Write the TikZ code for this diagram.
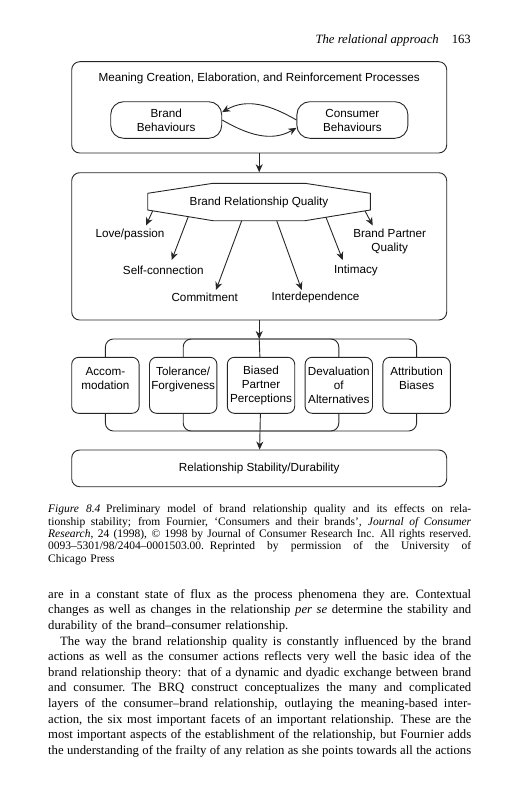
\documentclass[tikz,border=0pt]{standalone}
\usepackage{fontspec}
\setmainfont{Liberation Serif}
\newfontfamily\diagfont{Liberation Sans}
\usepackage{tikz}
\usetikzlibrary{positioning,arrows.meta}
\setlength{\parindent}{0pt}
\newcommand\jline[2][423pt]{\leavevmode\hbox to #1{\spaceskip=0.25em plus 1em minus 0.08em\relax #2}}

\begin{document}
\begin{tikzpicture}
        [
            x=1pt, y=-1pt,
            frame/.style={rectangle, draw=black!85, line width=0.9pt, rounded corners=8pt, minimum width=375pt},
            behaviour/.style={rectangle, draw=black!85, line width=0.9pt, rounded corners=13pt, minimum width=111pt, minimum height=36.6pt, align=center, font=\diagfont\fontsize{11.7}{14}\selectfont},
            facet/.style={rectangle, draw=black!85, line width=0.9pt, rounded corners=7pt, minimum width=67.4pt, minimum height=56pt, text width=66pt, inner sep=0pt, align=center, font=\diagfont\fontsize{11.7}{13.8}\selectfont},
            lbl/.style={inner sep=0pt, align=center, font=\diagfont\fontsize{11.7}{14.3}\selectfont},
            arr/.style={draw=black!85, line width=0.9pt, -{Stealth[length=8pt, width=7pt, inset=2.5pt]}},
            bracket/.style={draw=black!85, line width=0.9pt, rounded corners=8pt},
            prose/.style={inner sep=0pt, anchor=north west, text width=423pt, align=left},
        ]
        \useasboundingbox (0,0) rectangle (517,800);

        %Header
        \node[anchor=base east, inner sep=0pt, font=\fontsize{12.7}{15.6}\selectfont] (runhead) at (471,44) {\textit{The relational approach}\hspace{13pt}163};

        %Nodes
        \node[frame, minimum height=91.3pt]     (meaning)                           at (259.2,107.35) {};
        \node[lbl]                              (process)                           at (259.2,78)     {Meaning Creation, Elaboration, and Reinforcement Processes};
        \node[behaviour]                        (brand)                             at (166.2,120)    {Brand\\Behaviours};
        \node[behaviour]                        (consumer)  [right=74.3pt of brand]                   {Consumer\\Behaviours};

        \node[frame, minimum height=147.3pt]    (brqbox)                            at (259.2,246.35) {};
        \node[lbl]                              (brq)                               at (259,202)      {Brand Relationship Quality};
        \draw[draw=black!85, line width=0.9pt] (213,183.3) -- (305,183.3) -- (370.3,193.3) -- (370.3,210) -- (305,220.7) -- (213,220.7) -- (147.7,210) -- (147.7,193.3) -- cycle;

        \node[lbl]                              (love)                              at (130,234)      {Love/passion};
        \node[lbl]                              (selfconn)                          at (163.3,270.7)  {Self-connection};
        \node[lbl]                              (commit)                            at (204.7,297.3)  {Commitment};
        \node[lbl]                              (interdep)                          at (315.5,297.3)  {Interdependence};
        \node[lbl]                              (intimacy)                          at (356,270.7)    {Intimacy};
        \node[lbl]                              (partner)                           at (389.7,241.2)  {Brand Partner\\Quality};

        \node[facet]                            (accom)                             at (105.4,385.3)  {Accom-\\modation\\~};
        \node[facet]                            (toler)     [right=9.5pt of accom]                    {Tolerance/\\Forgiveness\\~};
        \node[facet]                            (biased)    [right=9.5pt of toler]                    {Biased\\Partner\\Perceptions};
        \node[facet]                            (deval)     [right=9.5pt of biased]                   {Devaluation\\of\\Alternatives};
        \node[facet]                            (attrib)    [right=9.5pt of deval]                    {Attribution\\Biases\\~};

        \node[frame, minimum height=36.7pt, font=\diagfont\fontsize{11.7}{14}\selectfont] (stability) at (259.2,468.35) {Relationship Stability/Durability};

        %Lines
        \draw[arr] (meaning) -- (brqbox);
        \draw[arr] (consumer.west) to[out=150, in=30] (brand.8);
        \draw[arr] (brand.east) to[out=-30, in=-150] (consumer.188);

        \coordinate (q1) at (152.7,210.8);  \coordinate (t1) at (146,225.5);
        \coordinate (q2) at (188.3,216.6);  \coordinate (t2) at (171.7,260);
        \coordinate (q3) at (241.7,220.7);  \coordinate (t3) at (216,290);
        \coordinate (q4) at (276.7,220.7);  \coordinate (t4) at (301.7,290);
        \coordinate (q5) at (326,217.3);    \coordinate (t5) at (342.7,260);
        \coordinate (q6) at (365,210.9);    \coordinate (t6) at (372.7,225.5);
        \foreach \i in {1,...,6}
            \draw[arr] (q\i) -- (t\i);

        \coordinate (join) at (259.2,339);
        \coordinate (split) at (259.2,431);
        \draw[arr] (brqbox) -- (join);
        \draw[bracket] (join) -- (biased);
        \draw[bracket] (accom.north) |- (join) -| (attrib.north);
        \draw[bracket] (toler.north) |- (join) -| (deval.north);
        \draw[bracket] (accom.south) |- (split) -| (attrib.south);
        \draw[bracket] (toler.south) |- (split) -| (deval.south);
        \draw[arr] (biased) -- (stability);

        %Caption
        \node[prose, font=\fontsize{11.5}{12.4}\selectfont] (caption) at (48,503.8) {\strut\jline{\textit{Figure 8.4}\enspace Preliminary model of brand relationship quality and its effects on rela-}\\
            \jline{tionship stability; from Fournier, ‘Consumers and their brands’, \textit{Journal of Consumer}}\\
            \jline{\textit{Research}, 24 (1998), © 1998 by Journal of Consumer Research Inc. All rights reserved.}\\
            \jline{0093–5301/98/2404–0001503.00. Reprinted by permission of the University of}\\
            Chicago Press};

        %Text
        \node[prose, font=\fontsize{12.7}{15.6}\selectfont] (body) at (48,587.1) {\strut\jline{are in a constant state of flux as the process phenomena they are. Contextual}\\
            \jline{changes as well as changes in the relationship \textit{per se} determine the stability and}\\
            durability of the brand–consumer relationship.\\
            \hspace*{12pt}\jline[411pt]{The way the brand relationship quality is constantly influenced by the brand}\\
            \jline{actions as well as the consumer actions reflects very well the basic idea of the}\\
            \jline{brand relationship theory: that of a dynamic and dyadic exchange between brand}\\
            \jline{and consumer. The BRQ construct conceptualizes the many and complicated}\\
            \jline{layers of the consumer–brand relationship, outlaying the meaning-based inter-}\\
            \jline{action, the six most important facets of an important relationship. These are the}\\
            \jline{most important aspects of the establishment of the relationship, but Fournier adds}\\
            \jline{the understanding of the frailty of any relation as she points towards all the actions}};
    \end{tikzpicture}
\end{document}
